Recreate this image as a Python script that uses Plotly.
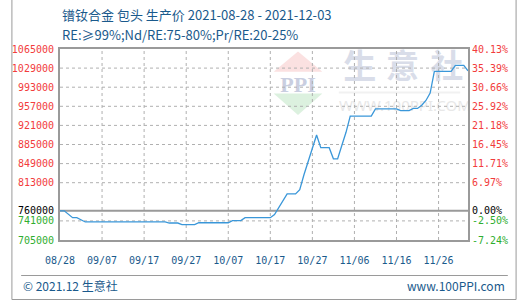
import plotly.graph_objects as go

# ---------------- data ----------------
dates = ["2021-08-28", "2021-08-29", "2021-08-31", "2021-09-01", "2021-09-03",
         "2021-09-22", "2021-09-23", "2021-09-25", "2021-09-26", "2021-09-29",
         "2021-09-30", "2021-10-07", "2021-10-08", "2021-10-10", "2021-10-11",
         "2021-10-17", "2021-10-18", "2021-10-19", "2021-10-20", "2021-10-21",
         "2021-10-23", "2021-10-24", "2021-10-25", "2021-10-26", "2021-10-27",
         "2021-10-28", "2021-10-29", "2021-10-31", "2021-11-01", "2021-11-02",
         "2021-11-03", "2021-11-04", "2021-11-05", "2021-11-10", "2021-11-11",
         "2021-11-16", "2021-11-17", "2021-11-19", "2021-11-20", "2021-11-21",
         "2021-11-22", "2021-11-23", "2021-11-24", "2021-11-25", "2021-11-29",
         "2021-11-30", "2021-12-02", "2021-12-03"]
prices = [760000, 760000, 747000, 747000, 739000,
          739000, 737000, 737000, 734000, 734000,
          737500, 737500, 741500, 741500, 747000,
          747000, 753000, 766000, 780000, 792000,
          792000, 800000, 828000, 853000, 878000,
          903000, 879000, 879000, 858000, 858000,
          883000, 908000, 938500, 938500, 952000,
          952000, 949000, 949000, 953000, 953000,
          959000, 968000, 982000, 1023000, 1023000,
          1034000, 1034000, 1024000]

base_price = 760000
left_ticks = [705000, 741000, 760000, 813000, 849000, 885000,
              921000, 957000, 993000, 1029000, 1065000]
x_ticks = ["2021-08-28", "2021-09-07", "2021-09-17", "2021-09-27", "2021-10-07",
           "2021-10-17", "2021-10-27", "2021-11-06", "2021-11-16", "2021-11-26"]
x_tick_labels = ["08/28", "09/07", "09/17", "09/27", "10/07",
                 "10/17", "10/27", "11/06", "11/16", "11/26"]
title_text = "镨钕合金 包头 生产价 2021-08-28 - 2021-12-03"
subtitle_text = "RE:≥99%;Nd/RE:75-80%;Pr/RE:20-25%"
footer_left = "© 2021.12 生意社"
footer_right = "www.100PPI.com"

# ---------------- style ----------------
RED = "#f23c3c"
GREEN = "#2fae2f"
BLACK = "#000000"
BLUE_TXT = "#1a5a8c"
LINE = "#3a97d9"
FRAME = "#9a9a9a"
GRID = "#b0b0b0"
MONO = "DejaVu Sans Mono"
SANS = "Noto Sans CJK SC"


def col(v):
    if v > base_price:
        return RED
    if v < base_price:
        return GREEN
    return BLACK


left_text = [f'<span style="color:{col(v)}">{v}</span>' for v in left_ticks]
pct_ticks = [v / base_price - 1 for v in left_ticks]
right_text = [f'<span style="color:{col(v)}">{p * 100:.2f}%</span>'
              for v, p in zip(left_ticks, pct_ticks)]
pct_prices = [v / base_price - 1 for v in prices]

# grid paths built from the tick arrays (drawn through the axes)
grid_x, grid_y = [], []
for xv in x_ticks[1:]:
    grid_x += [xv, xv, None]
    grid_y += [left_ticks[0], left_ticks[-1], None]
for yv in left_ticks[1:-1]:
    if yv == base_price:
        continue
    grid_x += [dates[0], dates[-1], None]
    grid_y += [yv, yv, None]

fig = go.Figure()
fig.add_trace(go.Scatter(x=grid_x, y=grid_y, mode="lines", connectgaps=False,
                         line=dict(color=GRID, width=1, dash="3px,3px"),
                         hoverinfo="skip", showlegend=False))
fig.add_trace(go.Scatter(x=[dates[0], dates[-1]], y=[base_price, base_price],
                         mode="lines", line=dict(color=FRAME, width=2),
                         hoverinfo="skip", showlegend=False))
fig.add_trace(go.Scatter(x=dates, y=prices, mode="lines",
                         line=dict(color=LINE, width=1.3),
                         hoverinfo="skip", showlegend=False))
fig.add_trace(go.Scatter(x=dates, y=pct_prices, mode="lines", yaxis="y2",
                         line=dict(color="rgba(0,0,0,0)", width=0),
                         hoverinfo="skip", showlegend=False))


def px(x):
    return (x - 50) / 420.0


def py(y):
    return (240 - y) / 191.0


shapes = []
# watermark logo
shapes.append(dict(type="path", xref="paper", yref="paper", layer="below",
                   path=f"M {px(270)},{py(71.7)} L {px(295)},{py(51.5)} L {px(320)},{py(71.7)} Z",
                   fillcolor="#fbe1e1", line=dict(width=0)))
shapes.append(dict(type="path", xref="paper", yref="paper", layer="below",
                   path=f"M {px(270)},{py(93.5)} L {px(295)},{py(115)} L {px(320)},{py(93.5)} Z",
                   fillcolor="#dcf1df", line=dict(width=0)))
shapes.append(dict(type="line", xref="paper", yref="paper", layer="below",
                   x0=px(337), x1=px(462), y0=py(92.5), y1=py(92.5),
                   line=dict(color="#f1f1f1", width=2)))


def wm_label(cx, cy, w, h, text, size, color, family, weight="normal"):
    return dict(type="rect", xref="paper", yref="paper", layer="below",
                x0=px(cx - w / 2), x1=px(cx + w / 2),
                y0=py(cy + h / 2), y1=py(cy - h / 2),
                line=dict(width=0), fillcolor="rgba(0,0,0,0)",
                label=dict(text=text, textposition="middle center",
                           font=dict(size=size, color=color, family=family,
                                     weight=weight)))


shapes.append(wm_label(295, 82, 60, 20, "PPI", 22, "#c9cee0", "Liberation Serif", "bold"))
for cx, ch in zip([358.5, 402.5, 448], "生意社"):
    shapes.append(wm_label(cx, 69, 40, 40, ch, 33, "#d9dde9", SANS, "bold"))
shapes.append(wm_label(405, 106, 130, 16, "WWW.100PPI.COM", 15, "#e8e8e8", "Noto Sans"))

# footer separator and border
shapes.append(dict(type="line", xref="paper", yref="paper",
                   x0=px(10), x1=px(511), y0=py(275.5), y1=py(275.5),
                   line=dict(color=FRAME, width=1)))
shapes.append(dict(type="path", xref="paper", yref="paper",
                   path=f"M {px(0.5)},{py(0)} L {px(0.5)},{py(299.5)} L {px(519.5)},{py(299.5)} L {px(519.5)},{py(0)}",
                   line=dict(color=FRAME, width=1)))

annotations = [
    dict(text=title_text, xref="paper", yref="paper", x=0, y=py(14.3),
         xanchor="left", yanchor="middle", showarrow=False,
         font=dict(size=13, color=BLUE_TXT, family=SANS)),
    dict(text=subtitle_text, xref="paper", yref="paper", x=0, y=py(34),
         xanchor="left", yanchor="middle", showarrow=False,
         font=dict(size=13, color=BLUE_TXT, family=SANS)),
    dict(text=footer_left, xref="paper", yref="paper", x=px(10), y=py(285.5),
         xanchor="left", yanchor="middle", showarrow=False,
         font=dict(size=12, color=BLUE_TXT, family=SANS)),
    dict(text=footer_right, xref="paper", yref="paper", x=px(510), y=py(285.5),
         xanchor="right", yanchor="middle", showarrow=False,
         font=dict(size=12, color=BLUE_TXT, family=SANS)),
]

fig.update_layout(
    width=520, height=300,
    margin=dict(l=50, r=50, t=49, b=60, pad=0),
    paper_bgcolor="white", plot_bgcolor="white",
    showlegend=False,
    shapes=shapes, annotations=annotations,
    xaxis=dict(type="date", range=[dates[0], dates[-1]],
               tickvals=x_ticks, ticktext=x_tick_labels,
               showgrid=False,
               showline=True, mirror=True, linecolor=FRAME, linewidth=2,
               zeroline=False, ticks="", ticklabelstandoff=10,
               tickfont=dict(family=MONO, size=10, color=BLUE_TXT)),
    yaxis=dict(range=[left_ticks[0], left_ticks[-1]],
               tickvals=left_ticks, ticktext=left_text,
               showgrid=False,
               showline=True, mirror=True, linecolor=FRAME, linewidth=2,
               zeroline=False, ticks="", ticklabelstandoff=2,
               tickfont=dict(family=MONO, size=10, color=RED)),
    yaxis2=dict(overlaying="y", side="right",
                range=[pct_ticks[0], pct_ticks[-1]],
                tickvals=pct_ticks, ticktext=right_text,
                showgrid=False, showline=False, zeroline=False,
                ticks="", ticklabelstandoff=3,
                tickfont=dict(family=MONO, size=10, color=RED)),
)

fig.write_html("out.html")
